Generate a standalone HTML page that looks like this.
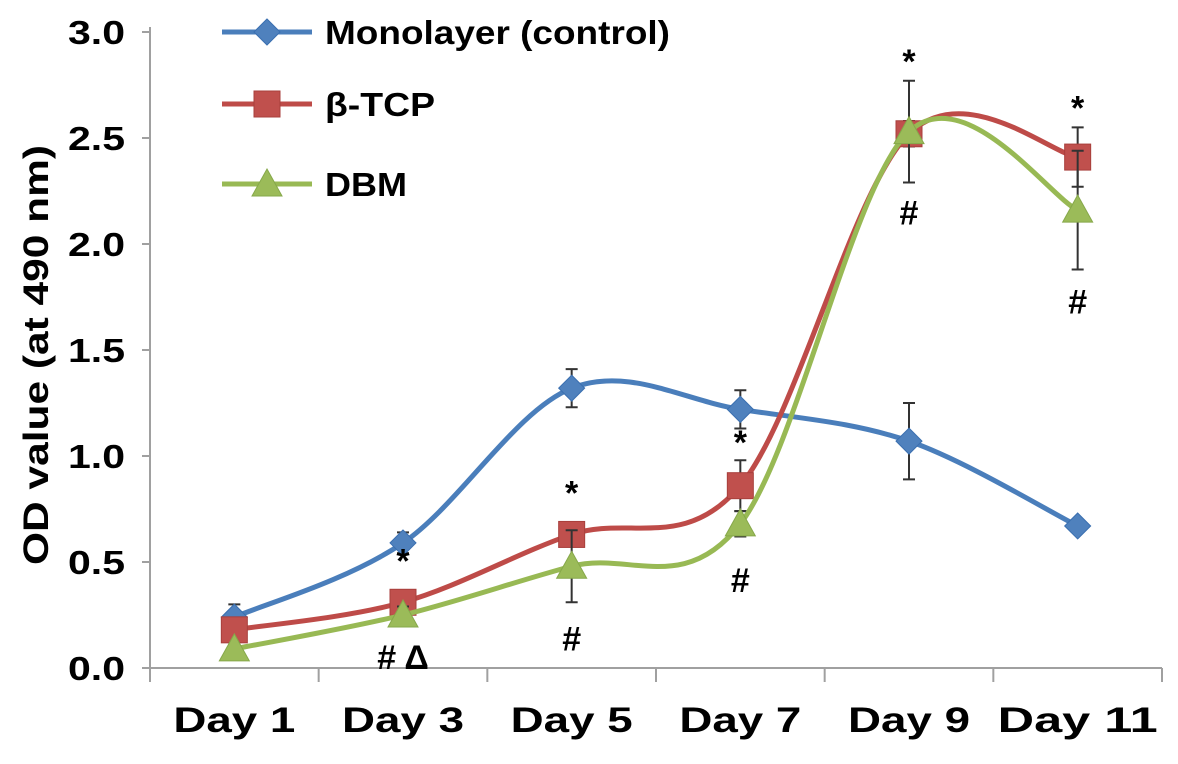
<!DOCTYPE html>
<html><head><meta charset="utf-8"><style>
body{margin:0;background:#fff;}
svg text{font-family:"Liberation Sans",Arial,sans-serif;font-weight:bold;fill:#000;}
</style></head><body>
<svg id="chart" width="1178" height="759" xmlns="http://www.w3.org/2000/svg"></svg>
<script>
const categories=["Day 1","Day 3","Day 5","Day 7","Day 9","Day 11"];
const yTicks=[0,0.5,1.0,1.5,2.0,2.5,3.0];
const monoValues=[0.24,0.59,1.32,1.22,1.07,0.67];
const monoErr=[0.06,0.05,0.09,0.09,0.18,0.02];
const tcpValues=[0.18,0.31,0.63,0.86,2.52,2.41];
const tcpErr=[0.04,0.04,0.05,0.12,0.06,0.14];
const dbmValues=[0.09,0.25,0.48,0.68,2.53,2.16];
const dbmErr=[0.02,0.04,0.17,0.06,0.24,0.28];
const annotations=[
 {i:1,v:0.31,t:"*",dy:-30},{i:1,v:0.25,t:"# Δ",dy:54},
 {i:2,v:0.63,t:"*",dy:-30},{i:2,v:0.31,t:"#",dy:48},
 {i:3,v:0.98,t:"*",dy:-6},{i:3,v:0.68,t:"#",dy:68},
 {i:4,v:2.77,t:"*",dy:-8},{i:4,v:2.30,t:"#",dy:44},
 {i:5,v:2.55,t:"*",dy:-8},{i:5,v:1.88,t:"#",dy:44}
];
const svg=document.getElementById('chart');
const NS="http://www.w3.org/2000/svg";
const x0=150,x1=1162,yb=668,yt=32;
const bw=(x1-x0)/categories.length;
function xs(i){return x0+bw*(i+0.5);}
function ys(v){return yb-(v/3)*(yb-yt);}
function mk(tag,attrs,parent){const e=document.createElementNS(NS,tag);for(const k in attrs)e.setAttribute(k,attrs[k]);(parent||svg).appendChild(e);return e;}
let a=mk('line',{x1:x0,y1:yt-5,x2:x0,y2:yb,stroke:'#a0a0a0','stroke-width':2});

a=mk('line',{x1:x0,y1:yb,x2:x1,y2:yb,stroke:'#a0a0a0','stroke-width':2});

for(let i=0;i<=categories.length;i++){const t=mk('line',{x1:x0+bw*i,y1:yb,x2:x0+bw*i,y2:yb+14,stroke:'#a0a0a0','stroke-width':2});}
yTicks.forEach(v=>{const t=mk('line',{x1:x0-8,y1:ys(v),x2:x0,y2:ys(v),stroke:'#a0a0a0','stroke-width':2});
 const l=mk('text',{x:125,y:ys(v)+12,'text-anchor':'end','font-size':33,textLength:57,lengthAdjust:'spacingAndGlyphs'});l.textContent=v.toFixed(1);});
categories.forEach((c,i)=>{const l=mk('text',{x:xs(i),y:732,'text-anchor':'middle','font-size':35,textLength:c.length>5?160:122,lengthAdjust:'spacingAndGlyphs'});l.textContent=c;});
const yl=mk('text',{x:0,y:0,'text-anchor':'middle','font-size':35,textLength:420,lengthAdjust:'spacingAndGlyphs',transform:'translate(48,355) rotate(-90)'});yl.textContent="OD value (at 490 nm)";

function smooth(pts){let d=`M${pts[0][0]},${pts[0][1]}`;for(let i=0;i<pts.length-1;i++){const p0=pts[i-1]||pts[i],p1=pts[i],p2=pts[i+1],p3=pts[i+2]||p2;const t=6;
 d+=` C${p1[0]+(p2[0]-p0[0])/t},${p1[1]+(p2[1]-p0[1])/t} ${p2[0]-(p3[0]-p1[0])/t},${p2[1]-(p3[1]-p1[1])/t} ${p2[0]},${p2[1]}`;}return d;}
function marker(type,x,y,fill,g){
 if(type==='d')return mk('polygon',{points:`${x},${y-13} ${x+13},${y} ${x},${y+13} ${x-13},${y}`,fill,stroke:'#3a6fb0','stroke-width':1},g);
 if(type==='s')return mk('rect',{x:x-13,y:y-13,width:26,height:26,fill,stroke:'#a83f3c','stroke-width':1},g);
 return mk('polygon',{points:`${x},${y-15} ${x+15},${y+12} ${x-15},${y+12}`,fill,stroke:'#86a84a','stroke-width':1},g);}
const series=[
 {name:'monolayer',vals:monoValues,err:monoErr,line:'#4a7ebb',fill:'#4f81bd',type:'d'},
 {name:'beta-tcp',vals:tcpValues,err:tcpErr,line:'#be4b48',fill:'#c0504d',type:'s'},
 {name:'dbm',vals:dbmValues,err:dbmErr,line:'#98b954',fill:'#9bbb59',type:'t'}];
series.forEach(s=>{
 const g=mk('g',{});
 s.vals.forEach((v,i)=>{const x=xs(i);const e=mk('path',{d:`M${x},${ys(v-s.err[i])}V${ys(v+s.err[i])}M${x-6},${ys(v-s.err[i])}h12M${x-6},${ys(v+s.err[i])}h12`,stroke:'#333','stroke-width':2,fill:'none'},g);});
 const p=mk('path',{d:smooth(s.vals.map((v,i)=>[xs(i),ys(v)])),stroke:s.line,'stroke-width':5,fill:'none'},g);
 
 s.vals.forEach((v,i)=>{const m=marker(s.type,xs(i),ys(v),s.fill,g);});
});
annotations.forEach(an=>{const t=mk('text',{x:xs(an.i),y:ys(an.v)+an.dy,'text-anchor':'middle','font-size':34,'font-weight':'normal'});t.textContent=an.t;});
const legend=[["Monolayer (control)",'#4a7ebb','#4f81bd','d',32,345],["β-TCP",'#be4b48','#c0504d','s',104,110],["DBM",'#98b954','#9bbb59','t',184,82]];
legend.forEach(L=>{const g=mk('g',{});
 mk('line',{x1:222,y1:L[4],x2:312,y2:L[4],stroke:L[1],'stroke-width':5},g);marker(L[3],267,L[4],L[2],g);
 const t=mk('text',{x:325,y:L[4]+12,'font-size':33,textLength:L[5],lengthAdjust:'spacingAndGlyphs'},g);t.textContent=L[0];});
</script>
</body></html>
